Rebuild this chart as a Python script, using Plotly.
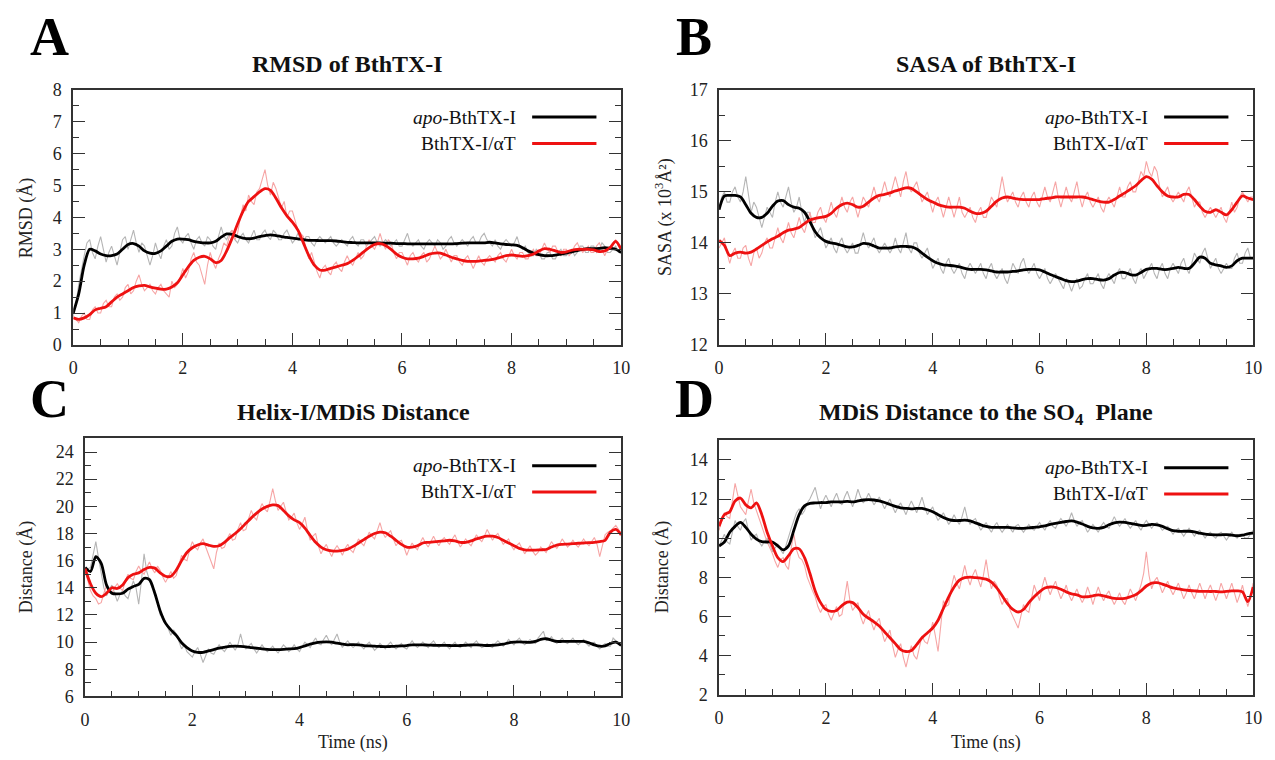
import plotly.graph_objects as go

TIME = [round(i * 0.1, 1) for i in range(101)]        # smoothed curves
RAW_TIME = [round(i * 0.05, 2) for i in range(201)]   # raw trajectories

# ---------------- Panel A: RMSD ----------------
RMSD_APO_RAW = [
    0.9, 1.3, 1.9, 2.4, 2.8, 3.2, 3.3, 2.9, 2.7, 3.1, 3.4, 3.0, 2.6, 2.9, 3.1, 2.8, 2.5, 2.9, 3.3, 3.4,
    3.0, 3.3, 3.6, 3.2, 2.9, 3.2, 3.1, 2.8, 2.5, 2.8, 3.2, 2.9, 2.7, 3.1, 3.3, 3.0, 3.1, 3.5, 3.7, 3.3,
    3.2, 3.4, 3.5, 3.2, 3.0, 3.3, 3.4, 3.2, 3.1, 3.4, 3.3, 3.1, 3.0, 3.4, 3.7, 3.4, 3.3, 3.5, 3.6, 3.3,
    3.2, 3.4, 3.5, 3.3, 3.2, 3.4, 3.6, 3.3, 3.3, 3.5, 3.6, 3.4, 3.3, 3.6, 3.5, 3.3, 3.3, 3.5, 3.6, 3.4,
    3.2, 3.3, 3.5, 3.3, 3.2, 3.4, 3.4, 3.2, 3.1, 3.3, 3.4, 3.3, 3.2, 3.3, 3.4, 3.2, 3.1, 3.2, 3.3, 3.2,
    3.1, 3.3, 3.4, 3.2, 3.1, 3.3, 3.3, 3.1, 3.2, 3.3, 3.4, 3.2, 3.1, 3.2, 3.3, 3.2, 3.1, 3.2, 3.3, 3.1,
    3.1, 3.3, 3.5, 3.2, 3.1, 3.2, 3.3, 3.1, 3.0, 3.2, 3.3, 3.2, 3.1, 3.3, 3.2, 3.0, 3.1, 3.3, 3.4, 3.2,
    3.1, 3.2, 3.3, 3.2, 3.1, 3.3, 3.4, 3.2, 3.2, 3.4, 3.5, 3.3, 3.2, 3.1, 3.3, 3.1, 3.0, 3.2, 3.3, 3.2,
    3.1, 3.2, 3.4, 3.1, 3.0, 3.1, 2.9, 2.8, 2.8, 3.0, 2.9, 2.7, 2.7, 2.9, 2.9, 2.7, 2.7, 2.9, 3.0, 2.8,
    2.8, 2.9, 3.0, 2.8, 2.9, 3.1, 3.1, 2.9, 2.9, 3.1, 3.1, 2.9, 3.0, 3.2, 3.1, 2.9, 2.9, 3.0, 3.1, 2.9,
    2.9]
RMSD_AT_RAW = [
    0.9, 0.8, 0.7, 0.9, 1.0, 0.8, 0.8, 1.1, 1.2, 1.0, 1.0, 1.3, 1.4, 1.2, 1.2, 1.5, 1.6, 1.4, 1.5, 1.8,
    1.9, 1.6, 1.7, 2.0, 2.2, 1.9, 1.7, 1.8, 1.9, 1.7, 1.6, 1.8, 1.9, 1.7, 1.6, 1.5, 2.0, 1.8, 1.9, 2.1,
    2.4, 2.1, 2.3, 2.7, 2.9, 2.6, 2.5, 2.2, 1.9, 2.5, 2.9, 2.6, 2.4, 2.7, 2.9, 3.2, 3.1, 3.4, 3.6, 3.3,
    3.5, 4.0, 4.4, 4.2, 4.7, 4.5, 4.4, 4.8, 4.9, 5.2, 5.5, 5.0, 4.7, 5.1, 4.9, 4.6, 4.3, 4.5, 4.0, 4.2,
    4.2, 3.9, 3.6, 3.5, 3.4, 3.0, 2.7, 2.9, 2.6, 2.3, 2.1, 2.4, 2.5, 2.3, 2.2, 2.5, 2.6, 2.4, 2.3, 2.6,
    2.8, 2.6, 2.5, 2.7, 2.9, 2.7, 2.8, 3.1, 3.3, 3.1, 3.0, 3.2, 3.5, 3.2, 3.0, 3.3, 3.2, 2.9, 2.7, 2.9,
    2.9, 2.7, 2.5, 2.8, 2.9, 2.7, 2.6, 2.8, 2.9, 2.6, 2.7, 2.9, 3.1, 2.9, 2.7, 2.8, 3.0, 2.8, 2.6, 2.8,
    2.8, 2.6, 2.5, 2.7, 2.8, 2.6, 2.4, 2.6, 2.8, 2.6, 2.5, 2.7, 2.8, 2.7, 2.6, 2.8, 2.9, 2.7, 2.6, 2.8,
    3.0, 2.8, 2.7, 2.9, 2.9, 2.7, 2.7, 2.9, 3.0, 2.8, 2.8, 3.0, 3.2, 3.0, 2.9, 3.1, 3.1, 2.9, 2.8, 3.0,
    3.0, 2.8, 2.9, 3.1, 3.2, 3.0, 2.9, 3.0, 3.1, 2.9, 2.9, 3.1, 3.2, 3.0, 2.8, 3.0, 3.1, 3.2, 3.3, 3.1,
    3.0]
RMSD_APO_AVG = [1.0, 1.6, 2.5, 3.0, 2.95, 2.85, 2.8, 2.8, 2.85, 3.0,
                3.15, 3.18, 3.1, 2.95, 2.88, 2.87, 2.95, 3.1, 3.25, 3.32,
                3.32, 3.3, 3.25, 3.22, 3.2, 3.2, 3.25, 3.38, 3.48, 3.47,
                3.4, 3.35, 3.33, 3.35, 3.4, 3.43, 3.45, 3.43, 3.4, 3.37,
                3.35, 3.33, 3.3, 3.28, 3.28, 3.27, 3.27, 3.27, 3.26, 3.24,
                3.22, 3.21, 3.2, 3.2, 3.2, 3.2, 3.2, 3.19, 3.19, 3.18,
                3.18, 3.17, 3.17, 3.17, 3.17, 3.17, 3.17, 3.17, 3.17, 3.17,
                3.18, 3.19, 3.2, 3.2, 3.2, 3.2, 3.22, 3.2, 3.17, 3.15,
                3.14, 3.12, 3.05, 2.95, 2.88, 2.83, 2.8, 2.8, 2.82, 2.85,
                2.88, 2.92, 2.96, 3.0, 3.02, 3.02, 3.03, 3.05, 3.03, 3.0, 2.9]
RMSD_AT_AVG = [0.85, 0.8, 0.85, 0.95, 1.1, 1.15, 1.2, 1.35, 1.5, 1.6,
               1.7, 1.8, 1.85, 1.87, 1.82, 1.78, 1.75, 1.75, 1.82, 1.95,
               2.2, 2.45, 2.65, 2.75, 2.78, 2.7, 2.58, 2.65, 2.95, 3.35,
               3.8, 4.2, 4.5, 4.65, 4.8, 4.9, 4.85, 4.6, 4.3, 4.05,
               3.85, 3.6, 3.2, 2.8, 2.5, 2.35, 2.35, 2.4, 2.45, 2.5,
               2.55, 2.65, 2.78, 2.92, 3.05, 3.15, 3.18, 3.12, 3.0, 2.85,
               2.75, 2.7, 2.7, 2.72, 2.78, 2.85, 2.88, 2.88, 2.82, 2.75,
               2.7, 2.65, 2.62, 2.62, 2.63, 2.65, 2.67, 2.7, 2.75, 2.8,
               2.82, 2.8, 2.78, 2.8, 2.85, 2.95, 3.02, 3.0, 2.95, 2.9,
               2.92, 2.97, 3.0, 3.0, 3.0, 2.98, 2.93, 2.95, 3.05, 3.25, 3.0]

# ---------------- Panel B: SASA ----------------
SASA_APO_RAW = [
    14.7, 14.9, 15.0, 14.8, 14.8, 15.0, 15.1, 14.9, 14.8, 15.0, 15.3, 14.9, 14.6, 14.8, 14.7, 14.5, 14.3, 14.5, 14.7, 14.6,
    14.5, 14.8, 15.0, 14.8, 14.7, 14.9, 15.1, 14.8, 14.6, 14.7, 14.9, 14.6, 14.4, 14.6, 14.6, 14.3, 14.1, 14.2, 14.3, 14.1,
    13.9, 14.0, 14.1, 13.9, 13.8, 14.0, 14.1, 13.9, 13.8, 13.9, 14.0, 13.8, 13.8, 14.0, 14.2, 14.0, 13.9, 14.0, 14.1, 13.9,
    13.8, 13.9, 14.0, 13.9, 13.8, 13.9, 14.1, 13.9, 13.8, 14.0, 14.2, 13.9, 13.8, 14.0, 14.0, 13.8, 13.7, 13.8, 13.9, 13.7,
    13.5, 13.6, 13.7, 13.5, 13.4, 13.6, 13.7, 13.5, 13.4, 13.5, 13.6, 13.4, 13.3, 13.5, 13.6, 13.5, 13.4, 13.5, 13.6, 13.4,
    13.3, 13.5, 13.6, 13.4, 13.3, 13.4, 13.5, 13.3, 13.2, 13.4, 13.6, 13.5, 13.4, 13.6, 13.7, 13.5, 13.4, 13.5, 13.6, 13.4,
    13.3, 13.4, 13.5, 13.3, 13.2, 13.3, 13.4, 13.3, 13.2, 13.1, 13.3, 13.2, 13.05, 13.2, 13.3, 13.1, 13.15, 13.3, 13.4, 13.2,
    13.2, 13.3, 13.4, 13.2, 13.1, 13.3, 13.4, 13.3, 13.2, 13.4, 13.5, 13.3, 13.3, 13.4, 13.5, 13.3, 13.2, 13.4, 13.5, 13.3,
    13.4, 13.5, 13.6, 13.4, 13.3, 13.5, 13.6, 13.4, 13.3, 13.5, 13.6, 13.5, 13.4, 13.6, 13.7, 13.5, 13.4, 13.6, 13.8, 13.7,
    13.6, 13.8, 13.9, 13.7, 13.5, 13.6, 13.7, 13.5, 13.4, 13.5, 13.6, 13.5, 13.5, 13.7, 13.8, 13.6, 13.6, 13.8, 13.9, 13.7,
    13.7]
SASA_AT_RAW = [
    13.9, 14.0, 14.1, 13.8, 13.6, 13.8, 13.9, 13.7, 13.7, 13.9, 13.95, 13.7, 13.55, 13.8, 13.9, 13.7, 13.8, 14.0, 14.1, 13.9,
    13.9, 14.1, 14.3, 14.1, 14.0, 14.2, 14.4, 14.2, 14.1, 14.3, 14.5, 14.3, 14.2, 14.4, 14.6, 14.4, 14.4, 14.6, 14.7, 14.5,
    14.4, 14.6, 14.8, 14.6, 14.5, 14.7, 14.9, 14.7, 14.6, 14.8, 14.9, 14.7, 14.5, 14.7, 14.9, 14.8, 14.7, 14.9, 15.1, 14.9,
    14.8, 15.0, 15.2, 15.0, 14.9, 15.1, 15.3, 15.1, 14.9, 15.2, 15.4, 15.1, 15.0, 15.1, 15.2, 15.0, 14.8, 14.9, 15.0, 14.8,
    14.6, 14.8, 14.9, 14.7, 14.5, 14.7, 14.9, 14.7, 14.5, 14.7, 14.9, 14.6, 14.5, 14.6, 14.7, 14.5, 14.4, 14.6, 14.7, 14.5,
    14.5, 14.7, 14.9, 14.8, 14.7, 15.0, 15.3, 15.0, 14.8, 14.9, 15.0, 14.8, 14.7, 14.9, 15.0, 14.8, 14.7, 14.9, 15.0, 14.8,
    14.7, 14.9, 15.1, 14.9, 14.8, 15.0, 15.2, 14.9, 14.7, 14.9, 15.1, 14.9, 14.8, 15.0, 15.2, 14.9, 14.7, 14.9, 15.0, 14.8,
    14.7, 14.8, 14.9, 14.7, 14.6, 14.8, 14.9, 14.8, 14.7, 14.9, 15.1, 14.9, 14.9, 15.1, 15.2, 15.0, 15.0, 15.2, 15.4, 15.3,
    15.6, 15.4, 15.3, 15.5, 15.4, 15.1, 14.9, 15.0, 15.1, 14.9, 14.8, 14.9, 15.0, 14.9, 14.8, 15.0, 15.1, 14.9, 14.7, 14.8,
    14.8, 14.6, 14.5, 14.6, 14.7, 14.6, 14.5, 14.6, 14.7, 14.5, 14.4, 14.6, 14.8, 14.6, 14.7, 14.9, 15.0, 14.9, 14.8, 14.9,
    14.9]
SASA_APO_AVG = [14.65, 14.92, 14.93, 14.93, 14.9, 14.75, 14.58, 14.5, 14.5, 14.58,
                14.72, 14.82, 14.83, 14.75, 14.7, 14.68, 14.6, 14.42, 14.22, 14.1,
                14.03, 14.0, 13.98, 13.95, 13.92, 13.92, 13.95, 13.99, 13.98, 13.94,
                13.9, 13.9, 13.9, 13.92, 13.93, 13.93, 13.92, 13.88, 13.8, 13.72,
                13.65, 13.6, 13.57, 13.56, 13.55, 13.53, 13.5, 13.48, 13.48, 13.48,
                13.47, 13.45, 13.43, 13.43, 13.43, 13.44, 13.45, 13.47, 13.48, 13.48,
                13.47, 13.43, 13.38, 13.34, 13.3, 13.26, 13.24, 13.25, 13.28, 13.3,
                13.3, 13.28, 13.27, 13.3, 13.37, 13.42, 13.42, 13.38, 13.37, 13.42,
                13.48, 13.5, 13.5, 13.48, 13.48, 13.5, 13.52, 13.5, 13.5, 13.6,
                13.72, 13.7, 13.6, 13.57, 13.55, 13.52, 13.55, 13.65, 13.7, 13.7, 13.7]
SASA_AT_AVG = [14.05, 13.95, 13.75, 13.8, 13.82, 13.8, 13.82, 13.88, 13.95, 14.02,
               14.08, 14.13, 14.2, 14.25, 14.27, 14.3, 14.38, 14.45, 14.48, 14.5,
               14.52, 14.58, 14.68, 14.75, 14.78, 14.75, 14.7, 14.72, 14.8, 14.88,
               14.93, 14.95, 14.98, 15.02, 15.05, 15.08, 15.07, 15.0, 14.92, 14.85,
               14.8, 14.75, 14.72, 14.7, 14.7, 14.7, 14.68, 14.62, 14.58, 14.58,
               14.62, 14.72, 14.82, 14.88, 14.9, 14.88, 14.86, 14.85, 14.85, 14.85,
               14.85, 14.87, 14.88, 14.9, 14.9, 14.9, 14.9, 14.9, 14.9, 14.88,
               14.85, 14.82, 14.8, 14.8, 14.85, 14.92, 14.98, 15.05, 15.12, 15.22,
               15.3, 15.25, 15.12, 15.0, 14.92, 14.9, 14.9, 14.95, 14.95, 14.85,
               14.72, 14.62, 14.6, 14.65, 14.6, 14.55, 14.65, 14.8, 14.92, 14.88, 14.85]

# ---------------- Panel C: Helix-I/MDiS distance ----------------
HELIX_APO_RAW = [
    15.0, 15.4, 15.5, 16.4, 17.4, 16.2, 15.0, 14.0, 13.4, 13.9, 14.2, 13.5, 13.0, 13.5, 13.8, 13.4, 13.2, 13.9, 14.5, 14.0,
    12.8, 14.5, 16.5, 15.2, 14.5, 14.0, 13.8, 12.8, 12.0, 11.9, 11.5, 11.0, 10.5, 10.9, 10.6, 10.0, 9.5, 9.8, 9.3, 9.1,
    8.9, 9.3, 9.6, 9.1, 8.5, 9.0, 9.5, 9.2, 9.1, 9.5, 9.8, 9.5, 9.3, 9.6, 10.0, 9.7, 9.4, 9.8, 10.6, 9.8,
    9.5, 9.7, 9.9, 9.5, 9.2, 9.5, 9.8, 9.5, 9.3, 9.5, 9.7, 9.4, 9.2, 9.5, 9.8, 9.6, 9.3, 9.5, 9.8, 9.5,
    9.3, 9.7, 10.0, 9.8, 9.6, 10.0, 10.3, 9.9, 9.8, 10.2, 10.5, 10.1, 9.8, 10.2, 10.6, 10.0, 9.6, 9.9, 10.1, 9.8,
    9.6, 9.8, 10.0, 9.7, 9.5, 9.8, 10.0, 9.7, 9.4, 9.6, 9.9, 9.7, 9.5, 9.8, 10.0, 9.7, 9.5, 9.7, 9.9, 9.6,
    9.5, 9.8, 10.1, 9.8, 9.6, 9.8, 10.0, 9.8, 9.6, 9.9, 10.1, 9.8, 9.6, 9.8, 10.0, 9.7, 9.5, 9.8, 10.0, 9.7,
    9.6, 9.8, 10.0, 9.8, 9.6, 9.9, 10.1, 9.8, 9.6, 9.7, 9.9, 9.7, 9.6, 9.9, 10.1, 9.9, 9.7, 9.9, 10.2, 10.0,
    9.8, 10.1, 10.3, 10.0, 9.8, 10.0, 10.2, 10.0, 9.9, 10.3, 10.6, 10.8, 10.1, 10.2, 10.4, 10.1, 9.9, 10.1, 10.3, 10.0,
    9.9, 10.1, 10.3, 10.0, 9.8, 10.0, 10.2, 9.9, 9.7, 9.9, 10.0, 9.7, 9.5, 9.7, 9.9, 9.7, 9.7, 10.3, 10.1, 9.9,
    9.8]
HELIX_AT_RAW = [
    15.3, 14.5, 13.8, 13.4, 13.2, 12.8, 12.9, 13.6, 14.2, 13.8, 13.6, 14.0, 14.3, 14.0, 13.8, 14.5, 15.0, 14.7, 14.6, 15.2,
    15.6, 15.2, 15.0, 15.5, 15.9, 15.4, 15.1, 15.6, 15.3, 14.8, 14.4, 14.8, 15.2, 14.7, 14.9, 15.7, 16.4, 16.1, 16.0, 16.8,
    17.4, 17.0, 16.8, 17.3, 17.6, 17.0, 16.5, 16.0, 15.4, 16.6, 17.3, 16.9, 17.0, 17.6, 18.0, 17.5, 17.6, 18.3, 18.8, 18.2,
    18.3, 19.1, 19.7, 19.2, 19.0, 19.7, 20.2, 19.8, 19.6, 20.4, 21.3, 20.4, 19.7, 20.0, 20.3, 19.6, 19.0, 19.2, 19.5, 18.8,
    18.3, 18.7, 19.2, 18.2, 17.5, 17.8, 18.0, 17.1, 16.5, 16.9, 17.2, 16.7, 16.3, 16.8, 17.1, 16.8, 16.4, 16.9, 17.2, 16.8,
    16.6, 17.1, 17.6, 17.3, 17.1, 17.6, 18.1, 17.8, 17.6, 18.2, 18.8, 18.1, 17.7, 18.0, 18.2, 17.6, 17.1, 17.4, 17.5, 17.0,
    16.4, 16.9, 17.3, 17.0, 16.8, 17.3, 17.7, 17.3, 17.0, 17.4, 17.8, 17.4, 17.1, 17.5, 17.7, 17.4, 17.2, 17.6, 17.9, 17.4,
    17.0, 17.3, 17.6, 17.3, 17.1, 17.5, 17.9, 17.6, 17.4, 17.8, 18.3, 17.9, 17.5, 17.8, 18.0, 17.6, 17.2, 17.4, 17.6, 17.1,
    16.8, 17.1, 17.3, 16.9, 16.5, 16.8, 17.1, 16.7, 16.4, 16.6, 17.0, 16.8, 16.6, 17.0, 17.4, 17.1, 16.9, 17.2, 17.6, 17.3,
    17.0, 17.2, 17.5, 17.2, 17.0, 17.3, 17.6, 17.3, 17.1, 17.4, 17.7, 17.2, 16.3, 17.1, 17.9, 18.1, 18.2, 18.4, 18.6, 18.3,
    18.0]
HELIX_APO_AVG = [15.5, 15.2, 16.3, 15.8, 14.2, 13.6, 13.55, 13.6, 13.9, 14.1,
                 14.25, 14.7, 14.6, 13.6, 12.3, 11.4, 10.9, 10.5, 9.95, 9.6,
                 9.35, 9.25, 9.25, 9.35, 9.45, 9.55, 9.62, 9.68, 9.7, 9.68,
                 9.65, 9.6, 9.55, 9.5, 9.47, 9.45, 9.45, 9.47, 9.5, 9.52,
                 9.6, 9.72, 9.85, 9.95, 10.0, 10.02, 10.0, 9.92, 9.85, 9.8,
                 9.82, 9.8, 9.75, 9.72, 9.7, 9.68, 9.67, 9.68, 9.7, 9.72,
                 9.75, 9.8, 9.8, 9.8, 9.78, 9.77, 9.76, 9.76, 9.75, 9.75,
                 9.75, 9.77, 9.79, 9.8, 9.78, 9.75, 9.77, 9.8, 9.85, 9.95,
                 10.0, 10.02, 10.0, 9.98, 10.05, 10.2, 10.25, 10.15, 10.05, 10.05,
                 10.05, 10.05, 10.05, 10.05, 9.95, 9.8, 9.7, 9.72, 9.9, 10.0, 9.75]
HELIX_AT_AVG = [15.4, 14.3, 13.6, 13.35, 13.6, 14.0, 13.95, 14.2, 14.75, 15.0,
                15.1, 15.35, 15.5, 15.45, 15.1, 14.85, 14.85, 15.3, 16.0, 16.6,
                16.95, 17.15, 17.25, 17.15, 17.05, 17.1, 17.35, 17.7, 18.0, 18.35,
                18.75, 19.15, 19.5, 19.8, 20.0, 20.1, 20.05, 19.7, 19.3, 19.0,
                18.8, 18.4, 17.85, 17.35, 17.0, 16.8, 16.72, 16.7, 16.75, 16.85,
                17.05, 17.3, 17.55, 17.8, 18.0, 18.1, 18.05, 17.8, 17.5, 17.2,
                17.0, 17.0, 17.1, 17.3, 17.35, 17.38, 17.42, 17.45, 17.5, 17.45,
                17.35, 17.35, 17.45, 17.6, 17.72, 17.8, 17.8, 17.7, 17.5, 17.3,
                17.1, 16.9, 16.8, 16.78, 16.78, 16.8, 16.82, 17.0, 17.15, 17.2,
                17.22, 17.25, 17.28, 17.3, 17.32, 17.35, 17.4, 17.5, 18.1, 18.3, 17.9]

# ---------------- Panel D: MDiS distance to SO4 plane ----------------
SO4_APO_RAW = [
    9.6, 9.9, 10.2, 9.8, 9.7, 10.3, 10.9, 10.6, 10.4, 10.8, 11.0, 10.4, 9.9, 10.1, 10.2, 9.8, 9.6, 9.8, 10.0, 9.7,
    9.3, 9.5, 9.7, 9.4, 9.2, 9.6, 10.1, 10.5, 10.9, 11.3, 11.5, 11.2, 11.4, 11.8, 12.0, 12.3, 12.6, 12.0, 11.5, 11.9,
    12.2, 11.9, 11.6, 12.0, 12.3, 11.9, 11.7, 12.1, 12.4, 12.0, 11.6, 12.0, 12.5, 12.1, 11.8, 12.0, 12.3, 12.0, 11.7, 11.9,
    12.1, 11.8, 11.5, 11.8, 12.0, 11.6, 11.3, 11.6, 11.8, 11.5, 11.2, 11.6, 11.9, 11.6, 11.3, 11.7, 12.1, 11.6, 11.2, 11.4,
    11.6, 11.2, 10.9, 11.1, 11.3, 11.0, 10.7, 10.9, 11.2, 10.9, 10.7, 11.1, 11.6, 11.0, 10.7, 10.9, 11.0, 10.7, 10.4, 10.6,
    10.8, 10.5, 10.3, 10.6, 10.8, 10.5, 10.3, 10.5, 10.7, 10.5, 10.3, 10.6, 10.7, 10.5, 10.3, 10.5, 10.7, 10.5, 10.4, 10.6,
    10.8, 10.6, 10.4, 10.7, 10.9, 10.6, 10.5, 10.8, 11.0, 10.8, 10.6, 10.9, 11.3, 10.9, 10.6, 10.8, 10.9, 10.6, 10.3, 10.5,
    10.7, 10.5, 10.3, 10.6, 10.8, 10.6, 10.5, 10.8, 11.1, 10.8, 10.6, 10.8, 11.0, 10.7, 10.5, 10.7, 10.9, 10.6, 10.4, 10.7,
    10.9, 10.7, 10.5, 10.7, 10.8, 10.6, 10.4, 10.5, 10.6, 10.4, 10.2, 10.4, 10.5, 10.3, 10.1, 10.3, 10.5, 10.3, 10.1, 10.3,
    10.4, 10.2, 10.0, 10.2, 10.3, 10.1, 10.0, 10.2, 10.3, 10.1, 9.9, 10.1, 10.3, 10.1, 10.0, 10.2, 10.2, 10.0, 10.0, 10.2,
    10.4]
SO4_AT_RAW = [
    10.4, 11.0, 11.3, 11.1, 11.0, 11.9, 12.8, 12.2, 11.6, 11.4, 11.2, 11.9, 12.5, 11.8, 11.4, 11.0, 10.6, 10.1, 9.8, 9.5,
    9.2, 8.8, 8.5, 8.9, 9.0, 8.6, 8.4, 9.5, 10.2, 9.4, 9.0, 8.9, 8.6, 8.0, 7.6, 7.3, 7.0, 6.5, 6.2, 6.5,
    6.6, 6.1, 5.8, 6.2, 6.5, 6.0, 6.1, 6.9, 7.8, 6.8, 6.3, 6.5, 6.7, 6.0, 5.6, 6.0, 6.3, 5.7, 5.3, 5.7,
    5.9, 5.2, 4.7, 5.0, 5.3, 4.5, 3.9, 4.3, 4.6, 3.9, 3.4, 4.0, 4.5, 4.0, 3.8, 4.4, 5.0, 4.7, 4.6, 5.1,
    5.7, 5.0, 4.2, 5.5, 6.8, 6.5, 6.6, 7.5, 8.1, 7.7, 7.4, 8.0, 8.6, 8.0, 7.6, 8.1, 8.4, 7.9, 7.5, 8.1,
    8.9, 8.0, 7.4, 7.8, 7.6, 7.0, 6.6, 6.9, 6.9, 6.3, 6.0, 5.7, 5.4, 6.0, 6.6, 6.3, 6.2, 6.9, 7.6, 7.2,
    6.8, 7.5, 8.0, 7.5, 7.1, 7.5, 7.8, 7.3, 6.9, 7.2, 7.6, 7.1, 6.8, 7.1, 7.4, 7.0, 6.7, 7.0, 7.5, 7.1,
    6.6, 7.1, 7.5, 7.1, 6.8, 7.1, 7.3, 6.9, 6.6, 6.9, 7.2, 6.8, 6.6, 7.0, 7.4, 7.1, 6.8, 7.2, 7.6, 8.2,
    9.3, 8.1, 7.4, 7.8, 8.0, 7.6, 7.2, 7.5, 7.8, 7.4, 7.1, 7.4, 7.7, 7.3, 6.9, 7.2, 7.6, 7.2, 6.9, 7.3,
    7.7, 7.3, 6.9, 7.3, 7.6, 7.2, 6.8, 7.2, 7.7, 7.3, 6.9, 7.3, 7.7, 7.2, 6.7, 7.1, 7.6, 7.0, 6.5, 7.0,
    7.7]
SO4_APO_AVG = [9.6, 9.8, 10.3, 10.6, 10.8, 10.55, 10.2, 9.95, 9.82, 9.8,
               9.8, 9.6, 9.4, 9.6, 10.4, 11.2, 11.65, 11.78, 11.8, 11.82,
               11.82, 11.85, 11.85, 11.85, 11.88, 11.85, 11.9, 11.95, 11.97, 11.95,
               11.9, 11.82, 11.72, 11.62, 11.55, 11.52, 11.5, 11.52, 11.52, 11.45,
               11.35, 11.2, 11.05, 10.95, 10.9, 10.9, 10.92, 10.88, 10.78, 10.68,
               10.6, 10.55, 10.55, 10.55, 10.55, 10.52, 10.5, 10.5, 10.52, 10.55,
               10.58, 10.62, 10.7, 10.75, 10.8, 10.85, 10.88, 10.82, 10.72, 10.6,
               10.52, 10.5, 10.55, 10.68, 10.78, 10.82, 10.8, 10.75, 10.7, 10.65,
               10.65, 10.7, 10.68, 10.6, 10.48, 10.38, 10.35, 10.35, 10.35, 10.32,
               10.25, 10.2, 10.18, 10.17, 10.17, 10.18, 10.15, 10.12, 10.15, 10.22, 10.25]
SO4_AT_AVG = [10.6, 11.2, 11.35, 11.9, 12.05, 11.7, 11.55, 11.8, 11.2, 10.3,
              9.6, 9.0, 8.8, 9.1, 9.45, 9.45, 9.0, 8.2, 7.3, 6.7,
              6.35, 6.25, 6.3, 6.55, 6.72, 6.7, 6.45, 6.1, 5.9, 5.72,
              5.5, 5.2, 4.9, 4.6, 4.3, 4.2, 4.25, 4.55, 4.9, 5.15,
              5.4, 5.8, 6.4, 7.0, 7.5, 7.85, 7.98, 8.0, 7.98, 7.95,
              7.9, 7.75, 7.45, 7.05, 6.65, 6.35, 6.22, 6.35, 6.7, 7.0,
              7.25, 7.45, 7.5, 7.48, 7.38, 7.25, 7.15, 7.1, 7.0, 7.0,
              7.05, 7.1, 7.05, 6.98, 6.92, 6.9, 6.92, 7.0, 7.1, 7.3,
              7.55, 7.7, 7.72, 7.65, 7.55, 7.45, 7.4, 7.35, 7.32, 7.3,
              7.28, 7.28, 7.27, 7.27, 7.25, 7.28, 7.3, 7.3, 7.25, 6.75, 7.5]

TITLES = ["RMSD of BthTX-I", "SASA of BthTX-I", "Helix-I/MDiS Distance",
          "MDiS Distance to the SO<sub>4</sub>  Plane"]
LETTERS = ["A", "B", "C", "D"]
YTITLES = ["RMSD (Å)", "SASA (x 10<sup>3</sup>Å²)", "Distance (Å)", "Distance (Å)"]
LEGEND_NAMES = ["<i>apo</i>-BthTX-I", "BthTX-I/αT"]
XTITLE = "Time (ns)"

FONT = "Liberation Serif, Times New Roman, serif"
GRAY = "#b5b5b5"
PINK = "#f6a5a5"
RED = "#ee1111"
BLACK = "#000000"
AX = "#333333"

# pixel layout of the four panels: x0, x1 (left/right), y0, y1 (top/bottom)
panels = [
    dict(raw=(RMSD_APO_RAW, RMSD_AT_RAW), avg=(RMSD_APO_AVG, RMSD_AT_AVG),
         yr=[0, 8], dt=1, mdt=0.5, xd=[69, 623], yd=[82, 344], ytx=22),
    dict(raw=(SASA_APO_RAW, SASA_AT_RAW), avg=(SASA_APO_AVG, SASA_AT_AVG),
         yr=[12, 17], dt=1, mdt=0.5, xd=[722, 1262], yd=[82, 344], ytx=667),
    dict(raw=(HELIX_APO_RAW, HELIX_AT_RAW), avg=(HELIX_APO_AVG, HELIX_AT_AVG),
         yr=[6, 25], dt=2, mdt=1, xd=[81, 623], yd=[440, 705], ytx=22),
    dict(raw=(SO4_APO_RAW, SO4_AT_RAW), avg=(SO4_APO_AVG, SO4_AT_AVG),
         yr=[2, 15], dt=2, mdt=1, xd=[722, 1262], yd=[442, 703], ytx=665),
]

W, H = 1275, 760
fig = go.Figure()
annotations = []
shapes = []


def px(x):
    return x / W


def py(y):
    return 1 - y / H


for i, p in enumerate(panels):
    assert len(p["raw"][0]) == len(RAW_TIME) and len(p["raw"][1]) == len(RAW_TIME)
    n = "" if i == 0 else str(i + 1)
    xa, ya = "x" + n, "y" + n
    fig.add_trace(go.Scatter(x=RAW_TIME, y=p["raw"][0], mode="lines", xaxis=xa, yaxis=ya,
                             line=dict(color=GRAY, width=1.1), showlegend=False))
    fig.add_trace(go.Scatter(x=RAW_TIME, y=p["raw"][1], mode="lines", xaxis=xa, yaxis=ya,
                             line=dict(color=PINK, width=1.1), showlegend=False))
    fig.add_trace(go.Scatter(x=TIME, y=p["avg"][0], mode="lines", xaxis=xa, yaxis=ya,
                             line=dict(color=BLACK, width=2.8, shape="spline", smoothing=0.8),
                             showlegend=False))
    fig.add_trace(go.Scatter(x=TIME, y=p["avg"][1], mode="lines", xaxis=xa, yaxis=ya,
                             line=dict(color=RED, width=2.8, shape="spline", smoothing=0.8),
                             showlegend=False))

    xdom = [px(p["xd"][0]), px(p["xd"][1])]
    ydom = [py(p["yd"][1]), py(p["yd"][0])]
    axis_common = dict(showgrid=False, zeroline=False, showline=True, linecolor=AX,
                       linewidth=1.6, ticks="inside", tickcolor=AX, tickwidth=1.3,
                       ticklen=12, ticklabelstandoff=6,
                       tickfont=dict(family=FONT, size=18, color="#222222"))
    minor_common = dict(ticks="inside", ticklen=6, tickcolor=AX, tickwidth=1.3)
    fig.layout["xaxis" + n] = dict(axis_common, domain=xdom, anchor=ya, range=[0, 10],
                                   dtick=2, tick0=0, mirror=True,
                                   minor=dict(minor_common, dtick=0.5))
    fig.layout["yaxis" + n] = dict(axis_common, domain=ydom, anchor=xa, range=p["yr"],
                                   dtick=p["dt"], tick0=0, mirror="allticks",
                                   minor=dict(minor_common, dtick=p["mdt"]))

    cx = (p["xd"][0] + p["xd"][1]) / 2
    top = p["yd"][0]
    # panel title
    annotations.append(dict(text="<b>%s</b>" % TITLES[i], x=px(cx), y=py(top - 27),
                            xref="paper", yref="paper", showarrow=False,
                            xanchor="center", yanchor="middle",
                            font=dict(family=FONT, size=24, color="#111111")))
    # panel letter
    lx = 45 if i % 2 == 0 else 697
    ly = 28 if i < 2 else 400
    annotations.append(dict(text="<b>%s</b>" % LETTERS[i], x=px(lx), y=py(ly),
                            xref="paper", yref="paper", showarrow=False,
                            xanchor="center", yanchor="middle",
                            font=dict(family=FONT, size=54, color="#000000")))
    # y axis title
    annotations.append(dict(text=YTITLES[i], x=px(p["ytx"]), y=(ydom[0] + ydom[1]) / 2,
                            xref="paper", yref="paper", showarrow=False, textangle=-90,
                            xanchor="center", yanchor="middle",
                            font=dict(family=FONT, size=18, color="#222222")))
    # x axis title on the bottom row
    if i >= 2:
        annotations.append(dict(text=XTITLE, x=px(cx), y=py(752), xref="paper",
                                yref="paper", showarrow=False, xanchor="center",
                                yanchor="middle",
                                font=dict(family=FONT, size=18, color="#222222")))
    # legend: text followed by a sample line on the right
    for k, (name, col) in enumerate(zip(LEGEND_NAMES, [BLACK, RED])):
        yy = top + 28 + 27 * k
        x_text = p["xd"][1] - 104
        annotations.append(dict(text=name, x=px(x_text), y=py(yy), xref="paper",
                                yref="paper", showarrow=False, xanchor="right",
                                yanchor="middle",
                                font=dict(family=FONT, size=19.5, color="#111111")))
        shapes.append(dict(type="line", xref="paper", yref="paper",
                           x0=px(x_text + 14), x1=px(x_text + 79),
                           y0=py(yy), y1=py(yy), line=dict(color=col, width=3)))

fig.update_layout(width=W, height=H, margin=dict(l=0, r=0, t=0, b=0),
                  plot_bgcolor="white", paper_bgcolor="white",
                  annotations=annotations, shapes=shapes, showlegend=False,
                  font=dict(family=FONT))
fig.write_html("out.html")
